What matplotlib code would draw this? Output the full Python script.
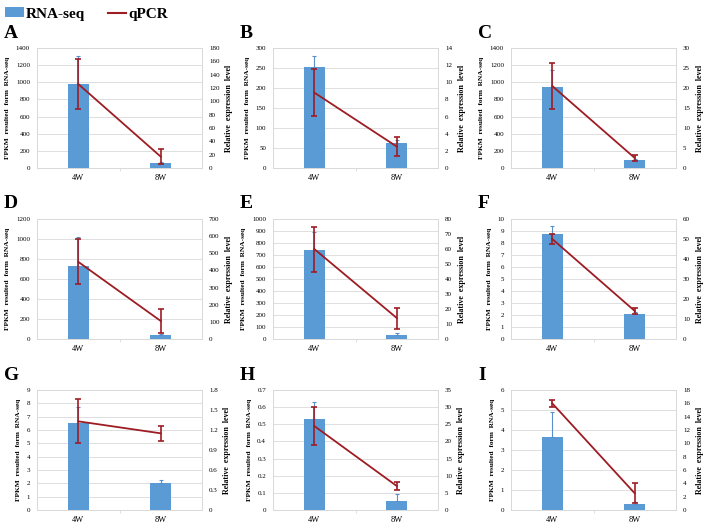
import numpy as np
import matplotlib.pyplot as plt
from matplotlib.ticker import MultipleLocator, FuncFormatter
from matplotlib.patches import Patch
from matplotlib.lines import Line2D

plt.rcParams['font.family'] = ['Liberation Serif', 'DejaVu Serif']

# Datos
panels = ['A', 'B', 'C', 'D', 'E', 'F', 'G', 'H', 'I']
weeks = ['4W', '8W']

fpkm = [[980, 60], [253, 62], [945, 90], [730, 40], [740, 35],
        [8.75, 2.1], [6.5, 2.0], [0.53, 0.05], [3.65, 0.3]]
fpkm_err = [[330, 10], [27, 8], [200, 15], [290, 8], [150, 15],
            [0.65, 0.15], [1.2, 0.25], [0.1, 0.045], [1.25, 0.1]]

qpcr = [[126, 17], [8.8, 2.5], [20.5, 2.5], [450, 105], [60, 14],
        [50, 14], [1.33, 1.15], [24.5, 7], [16, 2.5]]
qpcr_err = [[38, 11], [2.7, 1.1], [5.8, 0.8], [132, 72], [15, 7],
            [2.3, 1.7], [0.33, 0.11], [5.4, 1.2], [0.5, 1.5]]

# (max, paso) de cada eje
left_axis = [(1400, 200), (300, 50), (1400, 200), (1200, 200), (1000, 100),
             (10, 1), (9, 1), (0.7, 0.1), (6, 1)]
right_axis = [(180, 20), (14, 2), (30, 5), (700, 100), (80, 10),
              (60, 10), (1.8, 0.3), (35, 5), (18, 2)]

bar_color = '#5b9bd5'
line_color = '#9e1c24'
grid_color = '#d9d9d9'

W, H = 708, 525
fig = plt.figure(figsize=(W / 100, H / 100), dpi=100)

col_left = [37, 273, 511]
row_bottom = [168, 339, 510]
ax_w, ax_h = 165, 120

fmt = FuncFormatter(lambda v, p: '%g' % round(v, 6))
x = np.arange(2)

for i, name in enumerate(panels):
    r, c = divmod(i, 3)
    ax = fig.add_axes([col_left[c] / W, 1 - row_bottom[r] / H, ax_w / W, ax_h / H])
    ax2 = ax.twinx()

    up = np.array(fpkm_err[i])
    ax.bar(x, fpkm[i], width=0.26, color=bar_color, zorder=2,
           yerr=[np.zeros(2), up], ecolor='#5b8fc9', capsize=1.5,
           error_kw=dict(elinewidth=0.8, capthick=0.8))
    ax2.errorbar(x, qpcr[i], yerr=qpcr_err[i], color=line_color, lw=1.3,
                 ecolor=line_color, elinewidth=1.2, capsize=2, capthick=1.2,
                 zorder=3)

    ymax, step = left_axis[i]
    ax.set_ylim(0, ymax)
    ax.yaxis.set_major_locator(MultipleLocator(step))
    ax.yaxis.set_major_formatter(fmt)
    rmax, rstep = right_axis[i]
    ax2.set_ylim(0, rmax)
    ax2.yaxis.set_major_locator(MultipleLocator(rstep))
    ax2.yaxis.set_major_formatter(fmt)

    ax.set_xlim(-0.5, 1.5)
    ax.set_xticks(x)
    ax.set_xticklabels(weeks)
    ax.set_xticks([0.5], minor=True)
    ax.tick_params(axis='x', which='major', length=0, labelsize=6, pad=4)
    ax.tick_params(axis='x', which='minor', length=2, color=grid_color)
    ax.tick_params(axis='y', length=0, labelsize=5, pad=5)
    ax2.tick_params(axis='y', length=0, labelsize=5, pad=5)

    ax.grid(axis='y', color=grid_color, lw=0.6, zorder=0)
    ax.set_axisbelow(True)
    for a in (ax, ax2):
        for s in a.spines.values():
            s.set_color(grid_color)
            s.set_linewidth(0.6)

    ax.set_ylabel('FPKM  resulted  form  RNA-seq', fontsize=5.3, fontweight='bold', labelpad=4)
    ax2.set_ylabel('Relative  expression  level', fontsize=5.8, fontweight='bold', labelpad=4)

    fig.text((col_left[c] - 33) / W, 1 - (row_bottom[r] - 135) / H, name,
             fontsize=14, fontweight='bold', va='center', ha='left')

handles = [Patch(facecolor=bar_color), Line2D([], [], color=line_color, lw=1.5)]
fig.legend(handles, ['RNA-seq', 'qPCR'], loc='upper left', bbox_to_anchor=(-0.012, 1.012),
           ncol=2, frameon=False, prop=dict(size=11, weight='bold'),
           handlelength=1.2, handleheight=0.6, columnspacing=1.5, handletextpad=0.15)

fig.savefig('out.png', dpi=100)
